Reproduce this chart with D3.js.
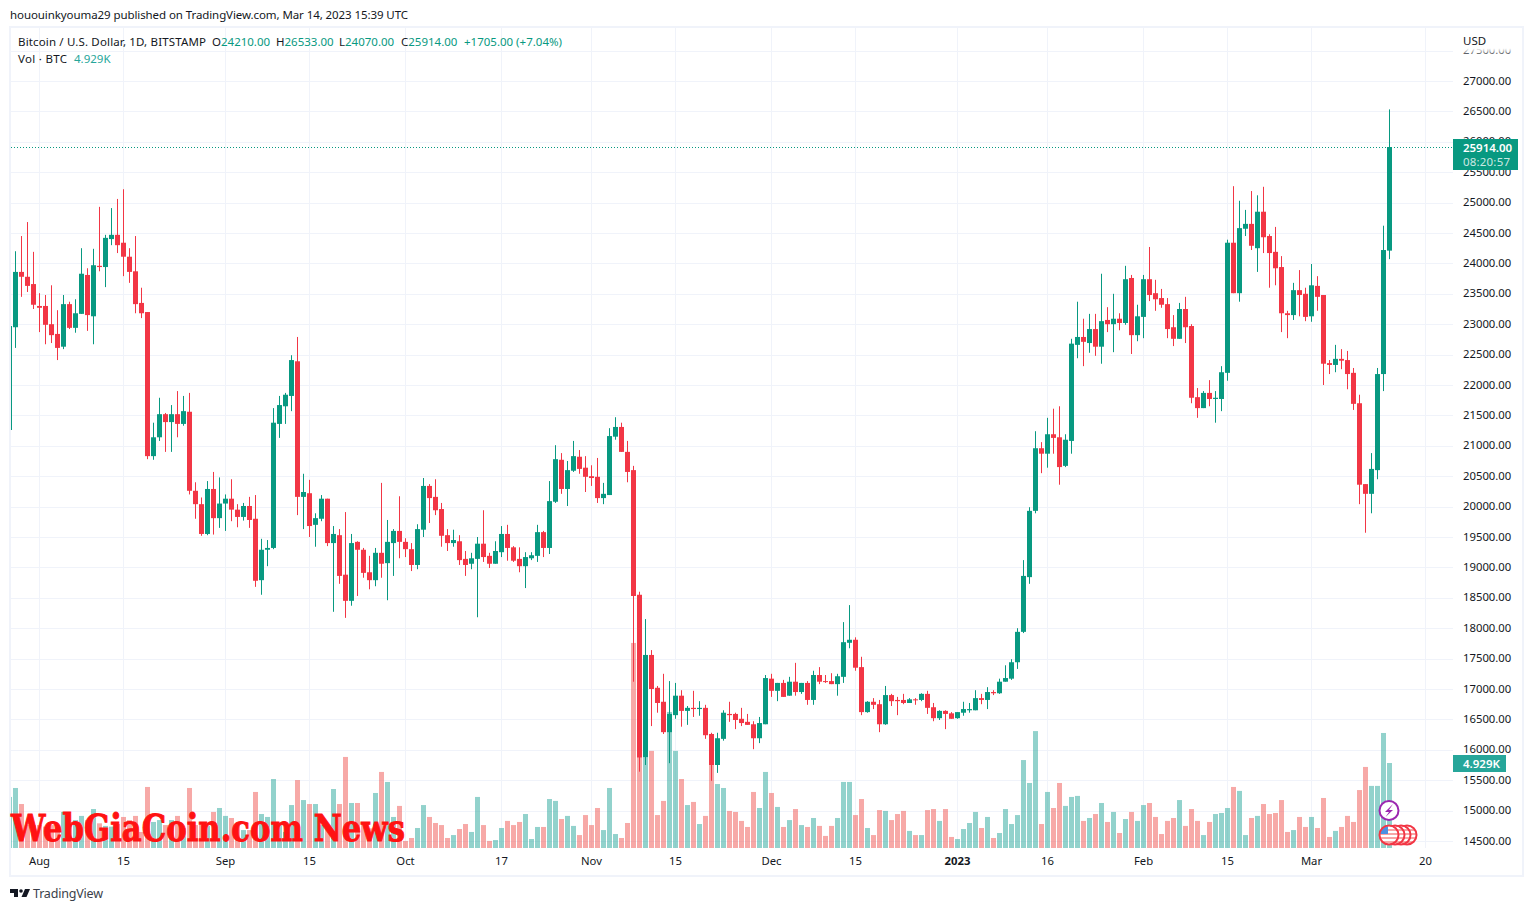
<!DOCTYPE html>
<html>
<head>
<meta charset="utf-8">
<title>BTCUSD</title>
<script src="https://cdn.jsdelivr.net/npm/d3@7"></script>
<style>
  html, body { margin: 0; padding: 0; background: #fff; }
  svg { display: block; }
  text { font-family: "Noto Sans", sans-serif; font-size: 11.5px; fill: #131722; }
  .tick text { font-size: 11.3px; }
</style>
</head>
<body>
<script>
// daily candles, first one is 27 Jul 2022, last one 14 Mar 2023
const firstDay = new Date(Date.UTC(2022, 6, 27));

const opens = [
  21260, 22950, 23860, 23780, 23660, 23300, 23300, 23000, 22840, 22630,
  23330, 22940, 23170, 23810, 23130, 23960, 23940, 24400, 24470, 24340,
  24110, 23870, 23350, 23200, 20830, 21140, 21520, 21390, 21520, 21360,
  21560, 20260, 20040, 19550, 20290, 19810, 20050, 20130, 19950, 19830,
  20010, 19800, 18790, 19290, 19320, 21360, 21650, 21820, 22390, 20160,
  20220, 19700, 19800, 20130, 19400, 19530, 18880, 18450, 19420, 19290,
  18920, 18790, 19240, 19070, 19400, 19600, 19420, 19300, 19040, 19620,
  20340, 20160, 19960, 19530, 19400, 19430, 19140, 19060, 19140, 19390,
  19190, 19060, 19250, 19550, 19330, 19140, 19020, 19150, 19190, 19580,
  19320, 20080, 20770, 20290, 20590, 20820, 20640, 20500, 20490, 20140,
  20190, 21150, 21310, 20900, 20600, 18550, 15880, 17560, 17020, 16790,
  16290, 16570, 16890, 16640, 16690, 16670, 16690, 16260, 15750, 16180,
  16590, 16590, 16510, 16460, 16420, 16190, 16420, 17170, 16970, 17100,
  16890, 17120, 16950, 17100, 16820, 17230, 17130, 17130, 17080, 17200,
  17760, 17810, 17360, 16620, 16790, 16750, 16420, 16900, 16820, 16820,
  16770, 16830, 16820, 16920, 16700, 16520, 16640, 16600, 16520, 16610,
  16650, 16650, 16850, 16820, 16950, 16930, 17120, 17170, 17440, 17940,
  18840, 19930, 20960, 20870, 21190, 21140, 20670, 21080, 22660, 22790,
  22690, 22920, 22630, 23070, 23000, 23090, 23020, 23760, 22820, 23120,
  23740, 23510, 23430, 23330, 22950, 22760, 23250, 22970, 21800, 21620,
  21870, 21770, 21770, 22200, 24340, 23510, 24570, 24650, 24250, 24850,
  24450, 24190, 23940, 23180, 23150, 23560, 23500, 23130, 23630, 23480,
  22360, 22330, 22430, 22410, 22200, 21700, 20370, 20210, 20600, 22180, 24210
];
const highs = [
  23150, 24200, 24450, 24680, 24190, 23510, 23480, 23640, 23230, 23480,
  23370, 23410, 24250, 23920, 24240, 24930, 24470, 24910, 25060, 25220,
  24250, 24450, 23600, 23200, 21380, 21790, 21540, 21670, 21900, 21820,
  21870, 20400, 20150, 20420, 20570, 20480, 20200, 20450, 20040, 20060,
  20160, 20190, 19470, 19450, 21620, 21820, 21870, 22490, 22790, 20540,
  20440, 19890, 20190, 20130, 19680, 19630, 19910, 19550, 19430, 19320,
  19190, 19320, 20390, 19780, 19630, 20170, 19480, 19400, 19710, 20470,
  20370, 20450, 20060, 19630, 19620, 19530, 19270, 19240, 19500, 19940,
  19240, 19430, 19680, 19700, 19350, 19330, 19250, 19250, 19700, 19600,
  20420, 21010, 20880, 20750, 21080, 20930, 20830, 20680, 20800, 20390,
  21290, 21470, 21380, 21080, 20670, 18600, 18150, 17640, 17050, 17250,
  17130, 17100, 16980, 16720, 16970, 16800, 16740, 16280, 16280, 16650,
  16790, 16610, 16690, 16590, 16470, 16540, 17230, 17250, 17100, 17150,
  17200, 17430, 17100, 17130, 17300, 17360, 17230, 17260, 17250, 18100,
  18380, 17850, 17530, 16800, 16850, 16820, 17050, 16920, 16870, 16920,
  16850, 16850, 16930, 16970, 16770, 16650, 16650, 16620, 16620, 16790,
  16770, 16980, 16920, 17030, 16980, 17170, 17390, 17490, 18000, 19120,
  19990, 21240, 21060, 21460, 21610, 21650, 21190, 22760, 23370, 23090,
  23170, 23170, 23830, 23280, 23500, 23180, 23960, 23810, 23320, 23810,
  24270, 23730, 23580, 23430, 23150, 23350, 23450, 23000, 21950, 21900,
  22080, 21900, 22310, 24390, 25270, 25030, 24880, 25190, 25120, 25260,
  24480, 24600, 24120, 23220, 23680, 23890, 23600, 23990, 23790, 23480,
  22410, 22660, 22590, 22560, 22280, 21840, 20370, 20880, 22280, 24620, 26533
];
const lows = [
  21050, 22610, 23450, 23530, 23250, 22870, 22670, 22690, 22410, 22590,
  22920, 22860, 23170, 22890, 22670, 23870, 23610, 24300, 24170, 23790,
  23680, 23180, 23100, 20780, 20770, 21080, 20900, 20900, 21140, 21330,
  20200, 19800, 19520, 19530, 19540, 19650, 19600, 19760, 19660, 19770,
  19650, 18680, 18550, 19020, 19300, 21130, 21360, 21570, 19860, 19630,
  19500, 19340, 19760, 19350, 18270, 18730, 18170, 18370, 18530, 18830,
  18640, 18690, 18830, 18460, 18860, 19150, 19170, 18940, 18970, 19500,
  19730, 19860, 19340, 19270, 19340, 19040, 18860, 18970, 18180, 19090,
  18990, 19060, 19170, 19110, 19090, 18920, 18660, 19120, 19090, 19170,
  19220, 20060, 20210, 20010, 20570, 20540, 20240, 20340, 20060, 20040,
  20190, 21100, 20900, 20400, 17120, 15640, 15750, 16390, 16610, 16260,
  15780, 16510, 16380, 16410, 16540, 16560, 16180, 15490, 15620, 16150,
  16460, 16340, 16390, 16410, 16010, 16110, 16420, 16870, 16800, 16870,
  16890, 16890, 16920, 16740, 16740, 17080, 17100, 17080, 16890, 17100,
  17670, 17300, 16570, 16610, 16670, 16290, 16410, 16720, 16570, 16750,
  16770, 16740, 16800, 16590, 16470, 16490, 16340, 16510, 16510, 16560,
  16610, 16650, 16750, 16670, 16900, 16920, 17120, 17150, 17330, 17920,
  18730, 19890, 20550, 20640, 20870, 20360, 20650, 20870, 22440, 22310,
  22530, 22480, 22350, 22870, 22540, 22900, 22990, 22510, 22720, 22770,
  23380, 23220, 23270, 22770, 22640, 22760, 22690, 21700, 21460, 21620,
  21650, 21380, 21570, 22070, 23510, 23370, 24450, 24220, 23860, 24170,
  23600, 23640, 22870, 22770, 23070, 23130, 23050, 23040, 23220, 22000,
  22180, 22210, 22260, 21930, 21590, 20040, 19570, 19890, 20450, 21900, 24070
];
const closes = [
  22970, 23860, 23780, 23630, 23320, 23270, 22990, 22820, 22610, 23330,
  22940, 23180, 23830, 23150, 23970, 23940, 24420, 24470, 24300, 24110,
  23860, 23330, 23180, 20830, 21140, 21520, 21390, 21520, 21360, 21570,
  20260, 20040, 19550, 20290, 19810, 20050, 20130, 19950, 19830, 20010,
  19780, 18780, 19290, 19320, 21380, 21670, 21840, 22410, 20160, 20240,
  19680, 19810, 20130, 19400, 19550, 18860, 18450, 19400, 19290, 18910,
  18790, 19240, 19060, 19420, 19600, 19420, 19300, 19040, 19630, 20340,
  20140, 19940, 19520, 19400, 19450, 19120, 19040, 19150, 19390, 19170,
  19060, 19270, 19550, 19320, 19110, 19020, 19170, 19200, 19580, 19320,
  20090, 20780, 20290, 20600, 20830, 20620, 20490, 20470, 20140, 20210,
  21160, 21310, 20900, 20570, 18530, 15870, 17560, 17000, 16770, 16290,
  16590, 16890, 16640, 16690, 16670, 16690, 16240, 15750, 16190, 16610,
  16570, 16490, 16440, 16410, 16190, 16440, 17180, 16970, 17100, 16870,
  17120, 16950, 17100, 16820, 17230, 17120, 17120, 17080, 17210, 17770,
  17810, 17350, 16620, 16790, 16740, 16420, 16900, 16800, 16800, 16770,
  16830, 16820, 16920, 16690, 16520, 16640, 16590, 16510, 16620, 16670,
  16670, 16850, 16820, 16950, 16930, 17120, 17180, 17440, 17940, 18860,
  19930, 20960, 20870, 21190, 21130, 20650, 21100, 22680, 22790, 22710,
  22920, 22630, 23050, 23000, 23090, 23020, 23740, 22820, 23130, 23740,
  23480, 23410, 23320, 22920, 22760, 23250, 22950, 21790, 21620, 21870,
  21770, 21790, 22210, 24340, 23510, 24580, 24650, 24290, 24850, 24430,
  24170, 23920, 23180, 23150, 23560, 23480, 23120, 23640, 23450, 22350,
  22330, 22430, 22400, 22180, 21690, 20360, 20210, 20620, 22180, 24220, 25914
];
// volume in thousands of BTC
const volumes = [
  2.96, 3.48, 2.55, 1.33, 1.33, 1.33, 1.24, 1.33, 1.14, 2.09,
  1.33, 1.62, 1.86, 1.62, 2.26, 1.43, 1.28, 1.24, 1.39, 1.80,
  1.62, 1.86, 0.93, 3.54, 1.51, 1.62, 1.33, 1.62, 1.86, 1.16,
  3.48, 1.33, 1.33, 1.28, 2.09, 2.32, 1.86, 1.74, 1.33, 1.04,
  1.04, 3.25, 1.97, 1.80, 4.00, 1.33, 0.93, 2.49, 3.94, 2.78,
  2.55, 2.55, 1.33, 1.33, 3.42, 2.55, 5.28, 2.61, 2.61, 1.43,
  1.14, 3.19, 4.41, 3.83, 1.80, 2.44, 0.41, 0.58, 1.16, 2.49,
  1.80, 1.45, 1.33, 0.58, 0.75, 1.10, 1.39, 0.93, 2.96, 1.33,
  0.41, 0.46, 1.16, 1.57, 1.33, 1.51, 1.97, 0.52, 1.22, 1.22,
  2.84, 2.73, 1.68, 1.86, 1.28, 0.75, 1.91, 1.33, 2.32, 1.04,
  3.48, 0.81, 0.58, 1.45, 11.89, 5.22, 5.28, 5.63, 1.91, 2.73,
  7.89, 5.63, 4.00, 2.49, 2.67, 1.39, 1.86, 4.81, 3.71, 3.48,
  2.15, 2.09, 1.57, 1.22, 3.25, 2.32, 4.41, 3.19, 2.38, 1.22,
  1.62, 2.26, 1.33, 1.22, 1.74, 1.28, 0.70, 1.28, 1.74, 3.83,
  3.83, 1.91, 2.84, 1.16, 0.75, 2.20, 2.15, 1.62, 1.97, 2.15,
  0.99, 0.75, 0.75, 2.20, 2.26, 1.57, 2.26, 0.64, 0.52, 1.10,
  1.45, 2.09, 1.16, 1.80, 0.58, 0.87, 2.26, 1.39, 1.91, 5.10,
  3.77, 6.78, 1.39, 3.25, 2.32, 3.77, 2.44, 2.96, 3.02, 1.57,
  1.74, 1.97, 2.61, 1.51, 2.09, 0.87, 1.68, 2.09, 1.57, 2.49,
  2.61, 1.80, 0.81, 1.57, 1.74, 2.78, 1.28, 2.26, 1.57, 0.75,
  1.51, 1.97, 2.03, 2.32, 3.54, 3.31, 0.75, 1.74, 1.86, 2.55,
  1.97, 2.03, 2.78, 0.93, 1.04, 1.80, 1.22, 1.80, 1.16, 2.90,
  0.64, 0.99, 1.22, 1.86, 1.51, 3.36, 4.70, 3.60, 3.60, 6.67, 4.929
];

const priceTicks = [14500, 15000, 15500, 16000, 16500, 17000, 17500, 18000, 18500, 19000, 19500, 20000,
  20500, 21000, 21500, 22000, 22500, 23000, 23500, 24000, 24500, 25000, 25500, 26000, 26500, 27000, 27500];
const dateTicks = [[2022,7,1],[2022,7,15],[2022,8,1],[2022,8,15],[2022,9,1],[2022,9,17],[2022,10,1],[2022,10,15],
  [2022,11,1],[2022,11,15],[2023,0,1],[2023,0,16],[2023,1,1],[2023,1,15],[2023,2,1],[2023,2,20]]
  .map(d => new Date(Date.UTC(d[0], d[1], d[2])));
const dateLabels = ["Aug","15","Sep","15","Oct","17","Nov","15","Dec","15","2023","16","Feb","15","Mar","20"];

const UP = "#089981", DOWN = "#F23645";
const GRID = "#f0f3fa";
const w = 1533, h = 911;
const left = 11, right = 1453, bottom = 848;

const svg = d3.select("body").append("svg").attr("width", w).attr("height", h);
const defs = svg.append("defs");
defs.append("clipPath").attr("id", "pane").append("rect")
  .attr("x", left).attr("y", 28).attr("width", right - left).attr("height", bottom - 28);

const x = d3.scaleUtc().domain([dateTicks[0], dateTicks[dateTicks.length - 1]]).range([39.5, 1425.5]);
const y = d3.scaleLinear().domain([14500, 27000]).range([841, 81]);
const yVol = d3.scaleLinear().domain([0, 4.929]).range([bottom, 763]);

const days = opens.map((o, i) => i);
const dayX = i => x(d3.utcDay.offset(firstDay, i));
const isUp = i => closes[i] >= opens[i];

// frame
svg.append("rect").attr("x", 10).attr("y", 27).attr("width", 1513).attr("height", 849)
  .attr("fill", "none").attr("stroke", GRID).attr("stroke-width", 2);

// grid
svg.append("g").selectAll("line").data(priceTicks).enter().append("line")
  .attr("x1", left).attr("x2", right)
  .attr("y1", d => Math.round(y(d)) + 0.5).attr("y2", d => Math.round(y(d)) + 0.5)
  .attr("stroke", GRID);
svg.append("g").selectAll("line").data(dateTicks).enter().append("line")
  .attr("x1", d => x(d)).attr("x2", d => x(d))
  .attr("y1", 28).attr("y2", bottom)
  .attr("stroke", GRID);

const pane = svg.append("g").attr("clip-path", "url(#pane)");

// volume
pane.append("g").selectAll("rect").data(days).enter().append("rect")
  .attr("x", i => dayX(i) - 2.5)
  .attr("width", 5)
  .attr("y", i => yVol(volumes[i]))
  .attr("height", i => bottom - yVol(volumes[i]))
  .attr("fill", i => isUp(i) ? "#26a69a" : "#ef5350")
  .attr("fill-opacity", 0.5);

// last price line
pane.append("line")
  .attr("x1", left).attr("x2", right)
  .attr("y1", Math.round(y(closes[230])) + 0.5).attr("y2", Math.round(y(closes[230])) + 0.5)
  .attr("stroke", UP).attr("stroke-dasharray", "1 2");

// wicks
pane.append("g").selectAll("line").data(days).enter().append("line")
  .attr("x1", i => dayX(i)).attr("x2", i => dayX(i))
  .attr("y1", i => y(highs[i])).attr("y2", i => y(lows[i]))
  .attr("stroke", i => isUp(i) ? UP : DOWN);

// bodies
pane.append("g").selectAll("rect").data(days).enter().append("rect")
  .attr("x", i => dayX(i) - 2.5)
  .attr("width", 5)
  .attr("y", i => y(Math.max(opens[i], closes[i])))
  .attr("height", i => Math.max(1, Math.abs(y(opens[i]) - y(closes[i]))))
  .attr("fill", i => isUp(i) ? UP : DOWN);

// axes
const priceAxis = d3.axisRight(y).tickValues(priceTicks).tickSize(0).tickPadding(10)
  .tickFormat(d3.format(".2f")).offset(0);
svg.append("g").attr("transform", "translate(" + right + ",0)").call(priceAxis)
  .call(g => g.select(".domain").remove());
const timeAxis = d3.axisBottom(x).tickValues(dateTicks).tickSize(0).tickPadding(9)
  .tickFormat((d, i) => dateLabels[i]).offset(0);
svg.append("g").attr("transform", "translate(0," + bottom + ")").call(timeAxis)
  .call(g => g.select(".domain").remove())
  .selectAll("text")
  .style("font-weight", (d, i) => dateLabels[i] == "2023" ? "bold" : null);
svg.selectAll("g[font-family]").attr("font-family", null).attr("font-size", null);
svg.selectAll(".tick").select("line").remove();

// 27500 is cut by the top of the scale
const fade = defs.append("linearGradient").attr("id", "fade").attr("x1", 0).attr("x2", 0).attr("y1", 0).attr("y2", 1);
fade.append("stop").attr("offset", "45%").attr("stop-color", "#fff");
fade.append("stop").attr("offset", "100%").attr("stop-color", "#fff").attr("stop-opacity", 0);
svg.append("rect").attr("x", 1456).attr("y", 42).attr("width", 64).attr("height", 14).attr("fill", "url(#fade)");
svg.append("text").attr("x", 1463).attr("y", 45).text("USD");

// last price tag
svg.append("rect").attr("x", right).attr("y", 139).attr("width", 65).attr("height", 31).attr("fill", UP);
svg.append("text").attr("x", 1463).attr("y", 151.5).attr("textLength", 49).style("fill", "#fff").style("font-weight", 600).text("25914.00");
svg.append("text").attr("x", 1463).attr("y", 165.5).attr("textLength", 47).style("fill", "#fff").style("fill-opacity", 0.8).text("08:20:57");

// volume tag
svg.append("rect").attr("x", right).attr("y", 755).attr("width", 53).attr("height", 17).attr("fill", "#26a69a");
svg.append("text").attr("x", 1463).attr("y", 767.5).style("fill", "#fff").style("font-weight", 600).text("4.929K");

// header and legend
svg.append("text").attr("x", 10).attr("y", 19).attr("textLength", 398)
  .text("hououinkyouma29 published on TradingView.com, Mar 14, 2023 15:39 UTC");
svg.append("text").attr("x", 18).attr("y", 46).attr("textLength", 188).text("Bitcoin / U.S. Dollar, 1D, BITSTAMP");
const legend = [["O", "24210.00", 212], ["H", "26533.00", 276], ["L", "24070.00", 339], ["C", "25914.00", 401]];
legend.forEach(function(l) {
  const t = svg.append("text").attr("x", l[2]).attr("y", 46);
  t.append("tspan").text(l[0]);
  t.append("tspan").style("fill", UP).text(l[1]);
});
svg.append("text").attr("x", 464).attr("y", 46).style("fill", UP).text("+1705.00 (+7.04%)");
svg.append("text").attr("x", 18).attr("y", 63).attr("textLength", 49).text("Vol · BTC");
svg.append("text").attr("x", 74).attr("y", 63).style("fill", "#26a69a").text("4.929K");

// site watermark
svg.append("text").attr("x", 11).attr("y", 841)
  .attr("textLength", 394).attr("lengthAdjust", "spacingAndGlyphs")
  .style("font-family", "'DejaVu Serif', serif").style("font-weight", "bold").style("font-size", "38px")
  .style("fill", "#ff1212").style("stroke", "#ff1212").style("stroke-width", 1).text("WebGiaCoin.com News");

// earnings / news marks on the last bar
const flagX = [1407, 1401, 1395, 1389];
flagX.forEach(function(cx, n) {
  defs.append("clipPath").attr("id", "flag" + n).append("circle").attr("cx", cx).attr("cy", 835).attr("r", 9);
  const g = svg.append("g");
  g.append("circle").attr("cx", cx).attr("cy", 835).attr("r", 9).attr("fill", "#fff");
  const f = g.append("g").attr("clip-path", "url(#flag" + n + ")");
  [829, 833, 837, 841].forEach(function(sy) {
    f.append("rect").attr("x", cx - 10).attr("y", sy).attr("width", 20).attr("height", 2).attr("fill", "#f7a5a5");
  });
  f.append("rect").attr("x", cx - 10).attr("y", 825).attr("width", 9).attr("height", 9).attr("fill", "#4a90e2");
  g.append("circle").attr("cx", cx).attr("cy", 835).attr("r", 9.5).attr("fill", "none").attr("stroke", "#f23645").attr("stroke-width", 2);
});
svg.append("circle").attr("cx", 1389).attr("cy", 810.5).attr("r", 9.5)
  .attr("fill", "#fff").attr("stroke", "#9c27b0").attr("stroke-width", 2);
svg.append("path").attr("d", "M1393 804 L1385 812 L1389 812 L1385.5 817 L1393 810 L1389 810 Z").attr("fill", "#9c27b0");

// bottom logo
svg.append("path").attr("fill", "#131722")
  .attr("d", "M10 889 h8 v8 h-4 v-4 h-4 Z M25 889 h5 l-3.5 8 h-5 Z");
svg.append("circle").attr("cx", 21).attr("cy", 891).attr("r", 1.8).attr("fill", "#131722");
svg.append("text").attr("x", 33).attr("y", 898).attr("textLength", 70).style("font-size", "12.5px").style("fill", "#3b3f4a").text("TradingView");
</script>
</body>
</html>
